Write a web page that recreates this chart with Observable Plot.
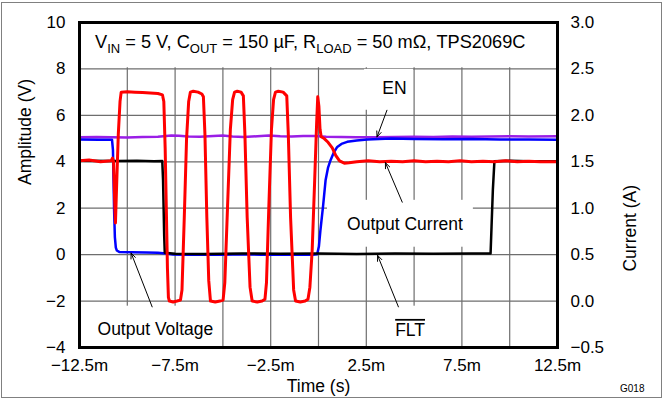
<!DOCTYPE html>
<html><head><meta charset="utf-8">
<script src="https://cdn.jsdelivr.net/npm/d3@7"></script>
<script src="https://cdn.jsdelivr.net/npm/@observablehq/plot@0.6"></script>
<style>body{margin:0;background:#fff}</style>
</head><body><div id="chart"></div>
<script>
// Time in ms, voltages in V, current in A
const xTicks = [-12.5, -7.5, -2.5, 2.5, 7.5, 12.5];
const xGrid = [-10, -7.5, -5, -2.5, 0, 2.5, 5, 7.5, 10];
const yTicks = [-4, -2, 0, 2, 4, 6, 8, 10];
const yGrid = [-2, 0, 2, 4, 6, 8];
const currentTicks = [-0.5, 0, 0.5, 1, 1.5, 2, 2.5, 3];

const enSamples = [[-12.5,5.06],[-11.6,5.07],[-10.8,5.06],[-10.0,5.05],[-9.2,5.07],[-8.4,5.08],[-7.7,5.13],[-7.3,5.12],[-6.8,5.09],[-6.2,5.08],[-5.5,5.11],[-5.0,5.13],[-4.5,5.09],[-3.9,5.07],[-3.2,5.1],[-2.6,5.13],[-2.0,5.1],[-1.4,5.09],[-0.8,5.11],[-0.2,5.11],[0.4,5.08],[1.2,5.07],[2.0,5.06],[3.0,5.06],[4.0,5.07],[5.0,5.08],[6.0,5.07],[7.0,5.09],[8.0,5.08],[9.0,5.09],[10.0,5.1],[11.0,5.09],[12.5,5.1]];

const outputVoltage = [[-12.5,4.96],[-11.5,4.95],[-10.8,4.95],[-10.75,4.5],[-10.72,3.2],[-10.69,1.9],[-10.65,0.75],[-10.6,0.3],[-10.55,0.18],[-10.4,0.11],[-9.8,0.1],[-9.0,0.09],[-8.4,0.08],[-8.0,0.05],[-7.6,0.01],[-7.0,0.0],[-6.0,-0.01],[-5.0,0.0],[-4.0,0.02],[-3.0,0.0],[-2.0,0.01],[-1.0,-0.01],[-0.3,0.0],[-0.07,0.02],[0.02,0.35],[0.1,1.05],[0.24,2.1],[0.37,3.2],[0.5,3.75],[0.63,4.07],[0.8,4.4],[0.98,4.64],[1.2,4.77],[1.5,4.86],[2.0,4.92],[2.55,4.96],[3.8,5.0],[5,4.98],[6.5,4.97],[8,4.98],[9.5,4.96],[11,4.96],[12.5,4.95]];

const fltSamples = [[-12.5,4.04],[-10.5,4.03],[-9.5,4.04],[-8.6,4.02],[-8.17,4.03],[-8.13,3.2],[-8.1,2.0],[-8.07,0.8],[-8.04,0.08],[-7.5,0.04],[-6,0.03],[-4,0.05],[-2,0.04],[0,0.05],[2,0.03],[4,0.05],[6,0.04],[8,0.05],[9.0,0.05],[9.05,1.2],[9.12,2.8],[9.2,4.02],[10,4.04],[11,4.02],[12.5,4.02]];

const outputCurrent = [[-12.5,1.51],[-12.0,1.52],[-11.4,1.50],[-10.85,1.51],[-10.77,1.54],[-10.72,1.50],[-10.67,1.15],[-10.62,0.84],[-10.55,1.3],[-10.47,1.8],[-10.38,2.15],[-10.32,2.25],[-10.0,2.255],[-9.6,2.25],[-9.2,2.245],[-8.8,2.24],[-8.4,2.235],[-8.16,2.22],[-8.09,2.15],[-8.02,1.65],[-7.96,1.0],[-7.9,0.35],[-7.85,0.04],[-7.8,0.0],[-7.6,-0.01],[-7.4,0.0],[-7.22,0.01],[-7.14,0.12],[-7.02,0.9],[-6.9,1.75],[-6.79,2.15],[-6.7,2.25],[-6.55,2.26],[-6.3,2.25],[-6.1,2.23],[-6.02,2.2],[-5.94,1.8],[-5.84,0.9],[-5.74,0.22],[-5.65,0.0],[-5.4,-0.01],[-5.15,0.0],[-4.99,0.01],[-4.9,0.2],[-4.76,1.0],[-4.61,1.85],[-4.49,2.17],[-4.39,2.25],[-4.25,2.26],[-4.05,2.25],[-3.93,2.21],[-3.85,1.8],[-3.73,0.9],[-3.58,0.15],[-3.47,0.0],[-3.2,-0.01],[-2.95,0.0],[-2.8,0.02],[-2.72,0.2],[-2.6,1.0],[-2.46,1.85],[-2.35,2.17],[-2.25,2.25],[-2.1,2.26],[-1.85,2.25],[-1.66,2.21],[-1.58,1.8],[-1.46,0.9],[-1.3,0.12],[-1.2,0.0],[-0.95,-0.01],[-0.7,0.0],[-0.55,0.02],[-0.45,0.15],[-0.33,0.55],[-0.2,1.3],[-0.1,1.9],[-0.04,2.2],[0.02,2.1],[0.08,1.85],[0.14,1.77],[0.3,1.75],[0.5,1.71],[0.72,1.65],[0.9,1.57],[1.1,1.51],[1.35,1.485],[1.6,1.49],[2.0,1.5],[2.6,1.51],[3.2,1.5],[3.8,1.505],[4.4,1.5],[5.0,1.51],[5.6,1.5],[6.2,1.505],[6.8,1.5],[7.4,1.51],[8.0,1.5],[8.6,1.505],[9.2,1.5],[9.8,1.51],[10.4,1.5],[11.0,1.505],[11.6,1.5],[12.5,1.5]];

// annotations (data units: ms, V)
const labelText = ["EN", "Output Current", "Output Voltage", "FLT"];
const labelTime = [3.97, 4.52, -8.53, 4.79];
const labelLevel = [7.15, 1.30, -3.24, -3.26];
const arrowFrom = [[3.58, 6.22], [4.38, 2.26], [-8.7, -2.25], [4.18, -2.25]];
const arrowTo = [[3.06, 5.07], [3.5, 3.96], [-9.8, 0.07], [3.09, -0.03]];
const labelBoxes = [[-12.5, 12.5, 8.05, 10], [2.41, 4.97, 6.22, 7.98], [0.47, 8.1, 0.32, 2.34], [-12.5, -5.2, -4, -2.22], [3.1, 6.0, -4, -2.22]];
const titleParts = [["V", false], ["IN", true], [" = 5 V, C", false], ["OUT", true], [" = 150 µF, R", false], ["LOAD", true], [" = 50 mΩ, TPS2069C", false]];
const titleAt = [-11.66, 8.88];

const toVolts = (a) => 4 * a - 2;       // right axis (A) -> left axis (V)
const minus = (s) => String(s).replace("-", "\u2212");
const fmtTime = (d) => minus(d) + "m";
const fmtV = (d) => minus(d);
const fmtA = (v) => minus(((v + 2) / 4).toFixed(1));

const font = "'Liberation Sans', Arial, Helvetica, sans-serif";
const chart = Plot.plot({
  width: 666, height: 400,
  marginLeft: 79, marginRight: 109, marginTop: 22, marginBottom: 53,
  style: {fontFamily: font, fontSize: "17px", color: "black", background: "white"},
  x: {domain: [-12.5, 12.5]},
  y: {domain: [-4, 10]},
  marks: [
    Plot.gridX(xGrid, {stroke: "#6e6e6e", strokeOpacity: 1, strokeWidth: 1.2}),
    Plot.gridY(yGrid, {stroke: "#6e6e6e", strokeOpacity: 1, strokeWidth: 1.2}),
    Plot.rect(labelBoxes, {x1: d => d[0], x2: d => d[1], y1: d => d[2], y2: d => d[3], fill: "white"}),
    Plot.line(enSamples, {x: d => d[0], y: d => d[1], stroke: "#9a1ee6", strokeWidth: 2.5}),
    Plot.line(outputVoltage, {x: d => d[0], y: d => d[1], stroke: "#0000ff", strokeWidth: 2.5}),
    Plot.line(fltSamples, {x: d => d[0], y: d => d[1], stroke: "#000000", strokeWidth: 2.5}),
    Plot.line(outputCurrent, {x: d => d[0], y: d => toVolts(d[1]), stroke: "#ff0000", strokeWidth: 3}),
    Plot.frame({stroke: "black", strokeWidth: 3}),
    Plot.axisX(xTicks, {tickSize: 0, tickPadding: 11, tickFormat: fmtTime, label: null}),
    Plot.axisY(yTicks, {anchor: "left", tickSize: 0, tickPadding: 14, tickFormat: fmtV, label: null}),
    Plot.axisY(currentTicks.map(toVolts), {anchor: "right", tickSize: 0, tickPadding: 13, tickFormat: fmtA, label: null}),
    Plot.text(labelText, {x: (d, i) => labelTime[i], y: (d, i) => labelLevel[i], text: d => d, fill: "black", fontSize: 17.5}),
    Plot.arrow(arrowFrom, {x1: d => d[0], y1: d => d[1], x2: (d, i) => arrowTo[i][0], y2: (d, i) => arrowTo[i][1], stroke: "black", strokeWidth: 1, headLength: 9, headAngle: 45}),
    Plot.text(["Amplitude (V)"], {frameAnchor: "left", dx: -54, rotate: -90, fill: "black", fontSize: 17.5}),
    Plot.text(["Current (A)"], {frameAnchor: "right", dx: 73, rotate: -90, fill: "black", fontSize: 17.5}),
    Plot.text(["Time (s)"], {frameAnchor: "bottom", dy: 44, fill: "black", fontSize: 17.5}),
    Plot.text(["G018"], {frameAnchor: "bottom-right", dx: 87, dy: 44, fill: "black", fontSize: 10})
  ]
});

const svg = d3.select(chart);
svg.selectAll("text").filter(function () { return this.textContent === "FLT"; })
  .style("text-decoration", "overline");
const t = svg.append("text")
  .attr("x", chart.scale("x").apply(titleAt[0]))
  .attr("y", chart.scale("y").apply(titleAt[1]))
  .attr("text-anchor", "start")
  .attr("fill", "black").attr("font-size", 18.2).style("white-space", "pre");
let down = false;
for (const [txt, sub] of titleParts) {
  const s = t.append("tspan").text(txt);
  if (sub && !down) { s.attr("dy", 4.5).attr("font-size", 13); down = true; }
  else if (sub) { s.attr("font-size", 13); }
  else if (down) { s.attr("dy", -4.5); down = false; }
}
svg.append("rect").attr("x", 1.5).attr("y", 2.5).attr("width", 660).attr("height", 395)
  .attr("fill", "none").attr("stroke", "#808080").attr("stroke-width", 1);
document.getElementById("chart").append(chart);
</script>
</body></html>
